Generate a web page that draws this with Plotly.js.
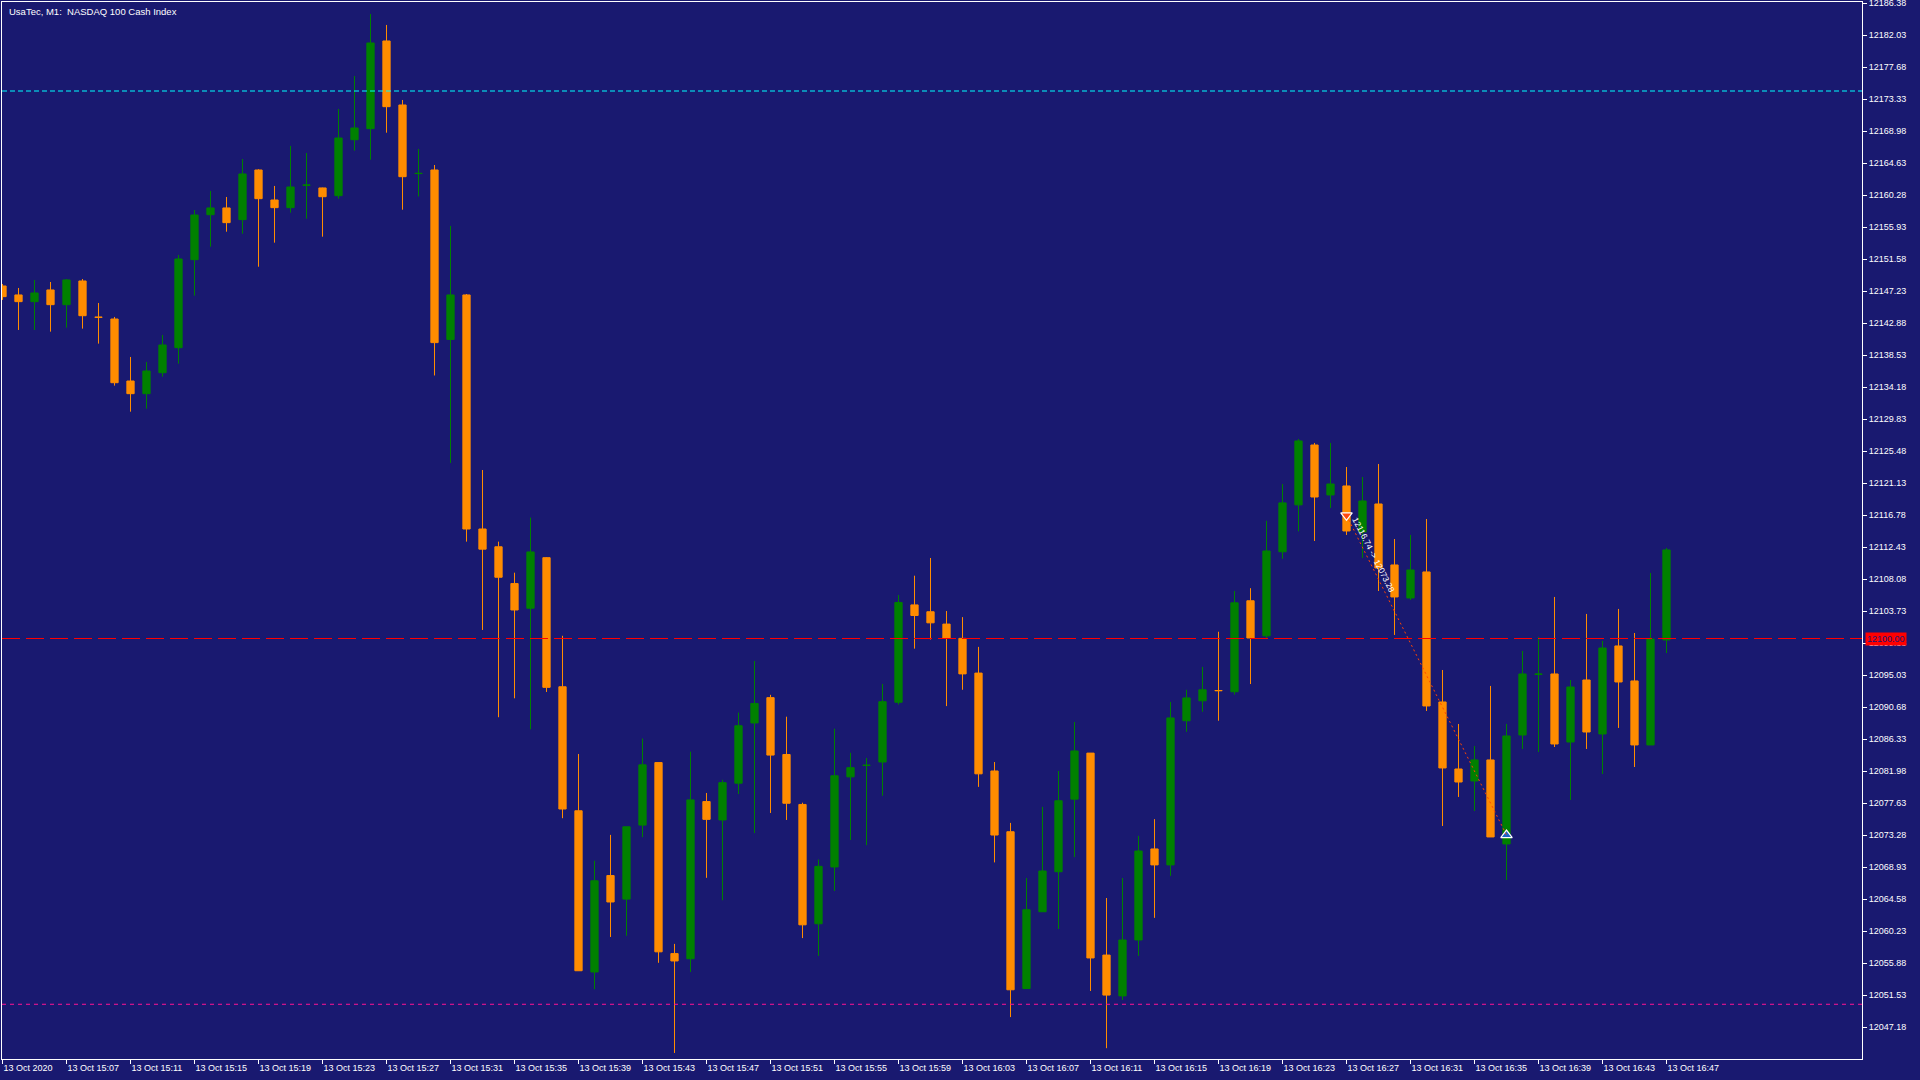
<!DOCTYPE html>
<html>
<head>
<meta charset="utf-8">
<script src="https://cdn.plot.ly/plotly-3.0.1.min.js"></script>
<style>
  html, body { margin: 0; padding: 0; background: #191970; }
  #chart { width: 1920px; height: 1080px; }
</style>
</head>
<body>
<div id="chart"></div>
<script>
// ---- Data (UsaTec M1, 13 Oct 2020, 15:03 .. 16:47, one bar per minute) ----
const open = [
  12147.93, 12146.71, 12145.80, 12147.39, 12145.39, 12148.61, 12143.69, 12143.44, 12135.01, 12133.29,
  12136.14, 12139.54, 12151.51, 12157.62, 12158.54, 12156.95, 12163.70, 12159.62, 12158.58, 12161.62,
  12161.26, 12160.21, 12167.82, 12169.32, 12181.24, 12172.54, 12163.21, 12163.70, 12140.66, 12146.71,
  12114.89, 12112.47, 12107.47, 12104.12, 12110.99, 12093.44, 12076.58, 12054.66, 12067.77, 12064.57,
  12074.63, 12083.13, 12057.16, 12056.46, 12077.83, 12075.33, 12080.33, 12088.52, 12091.96, 12084.23,
  12077.44, 12061.22, 12068.94, 12081.19, 12082.74, 12083.21, 12091.33, 12104.57, 12103.64, 12101.96,
  12100.02, 12095.30, 12081.99, 12073.73, 12052.41, 12062.85, 12068.29, 12078.16, 12084.42, 12056.96,
  12051.41, 12059.01, 12071.39, 12069.22, 12088.82, 12091.53, 12092.93, 12092.76, 12105.13, 12100.36,
  12111.79, 12118.17, 12126.31, 12119.52, 12120.74, 12114.48, 12118.29, 12110.00, 12105.51, 12109.05,
  12091.37, 12082.26, 12080.63, 12083.49, 12072.07, 12086.88, 12095.13, 12095.18, 12085.93, 12094.36,
  12087.02, 12098.99, 12094.23, 12085.53, 12099.80
];
const high = [
  12148.20, 12147.66, 12148.75, 12148.47, 12148.88, 12148.88, 12145.62, 12143.72, 12138.28, 12137.60,
  12141.27, 12152.15, 12158.26, 12160.85, 12160.03, 12165.20, 12163.80, 12161.53, 12166.97, 12166.01,
  12161.30, 12172.00, 12176.48, 12184.91, 12183.42, 12173.22, 12166.56, 12164.38, 12156.09, 12146.84,
  12122.91, 12113.17, 12108.95, 12116.44, 12111.05, 12100.37, 12084.30, 12069.79, 12073.30, 12074.40,
  12086.41, 12083.13, 12058.48, 12084.61, 12079.00, 12080.79, 12089.93, 12096.95, 12092.34, 12089.37,
  12077.68, 12069.96, 12087.74, 12084.46, 12083.76, 12093.82, 12105.92, 12108.54, 12110.95, 12103.74,
  12102.91, 12098.86, 12083.21, 12074.93, 12067.44, 12077.11, 12081.99, 12088.65, 12084.43, 12064.72,
  12067.44, 12073.17, 12075.44, 12091.37, 12093.03, 12096.14, 12100.92, 12106.46, 12106.84, 12116.01,
  12121.00, 12127.13, 12126.59, 12126.59, 12123.32, 12121.96, 12123.73, 12113.53, 12114.08, 12116.25,
  12095.72, 12088.38, 12085.39, 12093.55, 12088.38, 12098.31, 12100.21, 12105.65, 12094.36, 12103.34,
  12099.67, 12104.02, 12100.75, 12108.91, 12112.31
];
const low = [
  12146.03, 12141.95, 12141.95, 12141.72, 12142.26, 12142.13, 12140.09, 12134.38, 12130.84, 12131.25,
  12135.60, 12137.37, 12146.61, 12153.27, 12155.31, 12155.04, 12150.55, 12153.82, 12157.90, 12157.08,
  12154.63, 12159.80, 12166.33, 12165.10, 12168.77, 12158.30, 12160.10, 12135.76, 12123.87, 12113.17,
  12101.16, 12089.30, 12091.87, 12087.66, 12092.73, 12075.57, 12054.80, 12052.32, 12059.42, 12059.58,
  12072.99, 12055.91, 12043.65, 12054.66, 12067.46, 12064.41, 12078.85, 12073.55, 12076.28, 12075.33,
  12059.27, 12056.85, 12065.68, 12072.61, 12071.90, 12078.62, 12091.02, 12098.62, 12099.86, 12090.81,
  12093.03, 12079.83, 12069.56, 12048.53, 12052.35, 12062.82, 12060.51, 12070.28, 12052.08, 12044.30,
  12050.86, 12056.85, 12062.02, 12067.73, 12087.32, 12090.04, 12088.82, 12092.36, 12093.81, 12100.07,
  12110.84, 12114.57, 12113.26, 12117.75, 12114.08, 12110.95, 12106.46, 12100.48, 12105.24, 12090.15,
  12074.51, 12078.46, 12076.55, 12073.02, 12067.17, 12084.98, 12084.57, 12085.25, 12078.05, 12084.98,
  12081.58, 12087.84, 12082.53, 12085.53, 12098.03
];
const close = [
  12146.48, 12145.80, 12146.98, 12145.39, 12148.75, 12143.89, 12143.67, 12134.78, 12133.29, 12136.37,
  12139.91, 12151.60, 12157.58, 12158.54, 12156.54, 12163.16, 12159.80, 12158.58, 12161.39, 12161.65,
  12160.07, 12168.05, 12169.41, 12180.97, 12172.31, 12162.79, 12163.24, 12140.23, 12146.71, 12114.89,
  12112.15, 12108.33, 12103.88, 12111.77, 12093.36, 12076.82, 12054.83, 12067.06, 12064.18, 12074.40,
  12082.82, 12057.40, 12056.16, 12078.06, 12075.41, 12080.40, 12088.14, 12091.17, 12084.15, 12077.60,
  12061.07, 12069.02, 12081.34, 12082.44, 12082.77, 12091.41, 12104.90, 12103.13, 12102.13, 12100.02,
  12095.19, 12081.60, 12073.28, 12052.24, 12063.12, 12068.39, 12077.94, 12084.71, 12056.57, 12051.52,
  12059.01, 12071.11, 12069.22, 12089.20, 12091.92, 12093.03, 12092.91, 12104.85, 12100.07, 12111.90,
  12118.44, 12126.86, 12119.24, 12121.01, 12114.62, 12118.70, 12109.59, 12105.65, 12109.32, 12090.83,
  12082.40, 12080.49, 12083.49, 12073.02, 12086.75, 12095.18, 12095.16, 12085.66, 12093.41, 12087.29,
  12098.71, 12094.09, 12085.53, 12099.94, 12112.04
];

// time-axis labels, one every 4 bars
const timeLabels = [
  "13 Oct 2020", "13 Oct 15:07", "13 Oct 15:11", "13 Oct 15:15", "13 Oct 15:19", "13 Oct 15:23",
  "13 Oct 15:27", "13 Oct 15:31", "13 Oct 15:35", "13 Oct 15:39", "13 Oct 15:43", "13 Oct 15:47",
  "13 Oct 15:51", "13 Oct 15:55", "13 Oct 15:59", "13 Oct 16:03", "13 Oct 16:07", "13 Oct 16:11",
  "13 Oct 16:15", "13 Oct 16:19", "13 Oct 16:23", "13 Oct 16:27", "13 Oct 16:31", "13 Oct 16:35",
  "13 Oct 16:39", "13 Oct 16:43", "13 Oct 16:47"
];

// price-axis labels
const priceTicks = [
  12186.38, 12182.03, 12177.68, 12173.33, 12168.98, 12164.63, 12160.28, 12155.93, 12151.58,
  12147.23, 12142.88, 12138.53, 12134.18, 12129.83, 12125.48, 12121.13, 12116.78, 12112.43,
  12108.08, 12103.73, 12099.38, 12095.03, 12090.68, 12086.33, 12081.98, 12077.63, 12073.28,
  12068.93, 12064.58, 12060.23, 12055.88, 12051.53, 12047.18
];

// horizontal levels
const levelCyan = 12174.44;
const levelBid = 12100.00;
const levelMagenta = 12050.27;

// closed trade: sell at bar 84, closed at bar 94
const tradeBars = [84, 94];
const tradePrices = [12116.74, 12073.28];
const tradeLabel = "12116.74 -> 12073.28";

const chartTitle = "UsaTec, M1:\u00a0 NASDAQ 100 Cash Index";

// ---- Build chart ----
const xs = open.map((_, i) => i);
const tickPos = timeLabels.map((_, k) => k * 4);

const BG = '#191970';
const FONT = 'Liberation Sans, Arial, sans-serif';

const traces = [
  {
    type: 'candlestick',
    x: xs, open: open, high: high, low: low, close: close,
    increasing: { line: { color: '#008000', width: 1 }, fillcolor: '#008000' },
    decreasing: { line: { color: '#ff8c00', width: 1 }, fillcolor: '#ff8c00' },
    whiskerwidth: 0,
    hoverinfo: 'skip',
    showlegend: false
  },
  {
    type: 'scatter', mode: 'markers',
    x: [tradeBars[0]], y: [tradePrices[0]],
    marker: { symbol: 'triangle-down', size: 10, color: '#ff4a10', line: { color: '#ffffff', width: 1.2 } },
    hoverinfo: 'skip', showlegend: false
  },
  {
    type: 'scatter', mode: 'markers',
    x: [tradeBars[1]], y: [tradePrices[1]],
    marker: { symbol: 'triangle-up', size: 10, color: '#1a64c8', line: { color: '#ffffff', width: 1.2 } },
    hoverinfo: 'skip', showlegend: false
  }
];

const hline = (y, color, dash) => ({
  type: 'line', xref: 'paper', x0: 0, x1: 1, yref: 'y', y0: y, y1: y,
  line: { color: color, width: 1, dash: dash }, layer: 'above'
});

const layout = {
  width: 1920, height: 1080,
  paper_bgcolor: BG, plot_bgcolor: BG,
  margin: { l: 2, r: 58, t: 2, b: 21, pad: 0 },
  showlegend: false,
  boxgap: 0.35,
  font: { family: FONT, size: 9, color: '#ffffff' },
  xaxis: {
    range: [-0.031, 116.219],
    showgrid: false, zeroline: false,
    showline: true, linecolor: '#ffffff', linewidth: 1, mirror: true,
    ticks: 'outside', ticklen: 4, tickcolor: '#ffffff', tickwidth: 1,
    tickvals: tickPos, ticktext: timeLabels,
    ticklabelposition: 'outside right',
    ticklabeloverflow: 'allow',
    tickfont: { family: FONT, size: 9, color: '#ffffff' },
    rangeslider: { visible: false },
    fixedrange: true
  },
  yaxis: {
    side: 'right',
    range: [12042.83, 12186.54],
    showgrid: false, zeroline: false,
    showline: true, linecolor: '#ffffff', linewidth: 1, mirror: true,
    ticks: 'outside', ticklen: 4, tickcolor: '#ffffff', tickwidth: 1,
    tickvals: priceTicks, tickformat: '.2f',
    ticklabeloverflow: 'allow',
    tickfont: { family: FONT, size: 9, color: '#ffffff' },
    fixedrange: true
  },
  shapes: [
    hline(levelCyan, '#00ffff', '5px,3px'),
    hline(levelBid, '#ff0000', '18px,6px'),
    hline(levelMagenta, '#ff1493', '4px,4px'),
    {
      type: 'line', xref: 'x', yref: 'y',
      x0: tradeBars[0], y0: tradePrices[0], x1: tradeBars[1], y1: tradePrices[1],
      line: { color: '#ff4500', width: 1, dash: '2px,3px' }, layer: 'above'
    }
  ],
  annotations: [
    {
      xref: 'paper', yref: 'paper', x: 0, y: 1, xanchor: 'left', yanchor: 'top',
      xshift: 5, yshift: -2, text: chartTitle, showarrow: false,
      font: { family: FONT, size: 9.5, color: '#ffffff' }
    },
    {
      xref: 'paper', yref: 'y', x: 1, y: levelBid, xanchor: 'left', yanchor: 'middle',
      xshift: 3, text: levelBid.toFixed(2), showarrow: false,
      bgcolor: '#ff0000', borderpad: 1,
      font: { family: FONT, size: 9, color: '#191970' }
    },
    {
      xref: 'x', yref: 'y',
      x: tradeBars[0] + 0.17 * (tradeBars[1] - tradeBars[0]),
      y: tradePrices[0] + 0.124 * (tradePrices[1] - tradePrices[0]),
      text: tradeLabel, textangle: 63, showarrow: false,
      font: { family: FONT, size: 8.5, color: '#ffffff' }
    }
  ]
};

Plotly.newPlot('chart', traces, layout, { staticPlot: true, displayModeBar: false });
</script>
</body>
</html>
